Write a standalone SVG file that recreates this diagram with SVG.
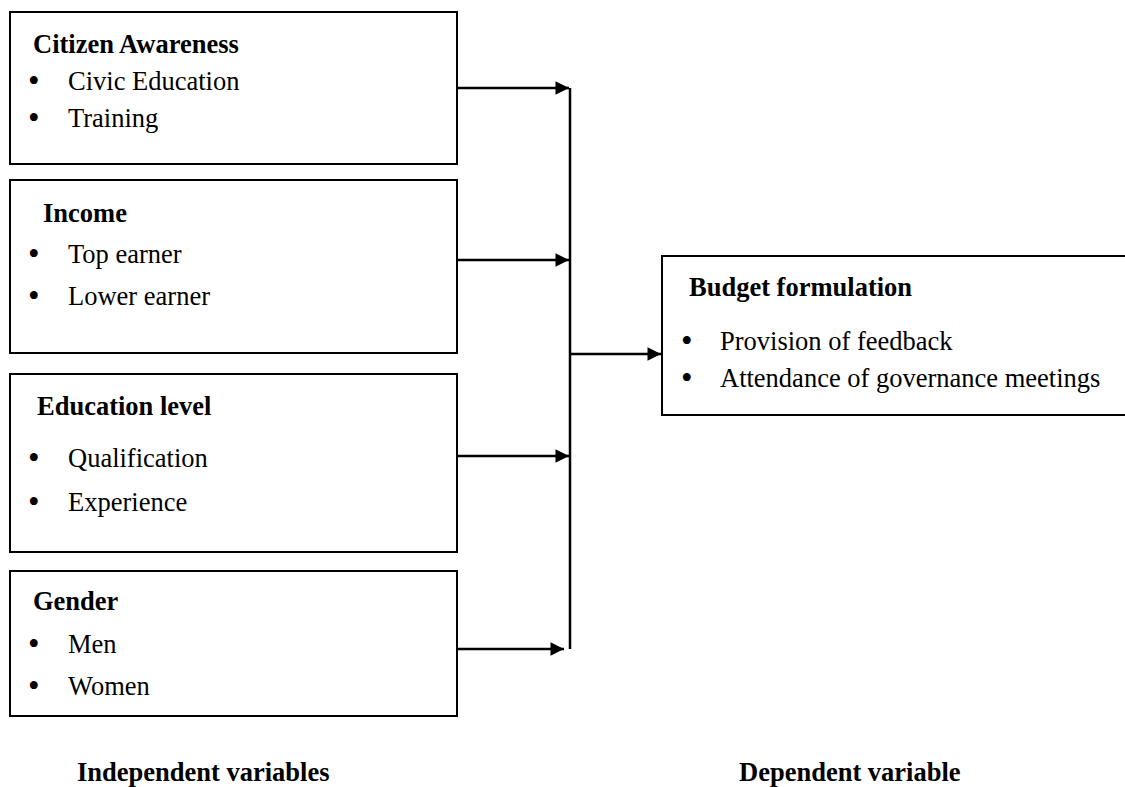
<svg xmlns="http://www.w3.org/2000/svg" width="1125" height="787" viewBox="0 0 1125 787">
<style>
.box{fill:#fff;stroke:#000;stroke-width:2}
.h{font-family:"Liberation Serif","Times New Roman",serif;font-weight:bold;font-size:26.5px;fill:#000}
.t{font-family:"Liberation Serif","Times New Roman",serif;font-size:26.5px;fill:#000}
.b{font-family:"Liberation Serif","Times New Roman",serif;font-size:33px;fill:#000}
.ln{stroke:#000;stroke-width:2.5;fill:none}
</style>
<defs>
<marker id="ah" viewBox="0 0 10 10" refX="10" refY="5" markerWidth="6" markerHeight="5.4" markerUnits="strokeWidth" orient="auto">
<path d="M0,0 L10,5 L0,10 z" fill="#000"/>
</marker>
</defs>
<rect width="1125" height="787" fill="#fff"/>
<g id="citizen-awareness">
<rect class="box" x="10" y="12" width="447" height="152"/>
<text class="h" x="33" y="53">Citizen Awareness</text>
<text class="b" x="28" y="92">•</text><text class="t" x="68" y="90">Civic Education</text>
<text class="b" x="28" y="129">•</text><text class="t" x="68" y="127">Training</text>
</g>
<g id="income">
<rect class="box" x="10" y="180" width="447" height="173"/>
<text class="h" x="43" y="222">Income</text>
<text class="b" x="28" y="265">•</text><text class="t" x="68" y="263">Top earner</text>
<text class="b" x="28" y="307">•</text><text class="t" x="68" y="305">Lower earner</text>
</g>
<g id="education-level">
<rect class="box" x="10" y="374" width="447" height="178"/>
<text class="h" x="37" y="415">Education level</text>
<text class="b" x="28" y="469">•</text><text class="t" x="68" y="467">Qualification</text>
<text class="b" x="28" y="513">•</text><text class="t" x="68" y="511">Experience</text>
</g>
<g id="gender">
<rect class="box" x="10" y="571" width="447" height="145"/>
<text class="h" x="33" y="610">Gender</text>
<text class="b" x="28" y="655">•</text><text class="t" x="68" y="653">Men</text>
<text class="b" x="28" y="697">•</text><text class="t" x="68" y="695">Women</text>
</g>
<g id="budget-formulation">
<rect class="box" x="662" y="256" width="470" height="159"/>
<text class="h" x="689" y="296">Budget formulation</text>
<text class="b" x="681" y="352">•</text><text class="t" x="720" y="350">Provision of feedback</text>
<text class="b" x="681" y="389">•</text><text class="t" x="720" y="387">Attendance of governance meetings</text>
</g>
<g id="connectors">
<line class="ln" x1="570" y1="88" x2="570" y2="649"/>
<line class="ln" x1="457" y1="88" x2="569" y2="88" marker-end="url(#ah)"/>
<line class="ln" x1="457" y1="260" x2="569" y2="260" marker-end="url(#ah)"/>
<line class="ln" x1="457" y1="456" x2="569" y2="456" marker-end="url(#ah)"/>
<line class="ln" x1="457" y1="649" x2="564" y2="649" marker-end="url(#ah)"/>
<line class="ln" x1="570" y1="354" x2="661" y2="354" marker-end="url(#ah)"/>
</g>
<g id="labels">
<text class="h" x="77" y="781">Independent variables</text>
<text class="h" x="739" y="781">Dependent variable</text>
</g>
</svg>
